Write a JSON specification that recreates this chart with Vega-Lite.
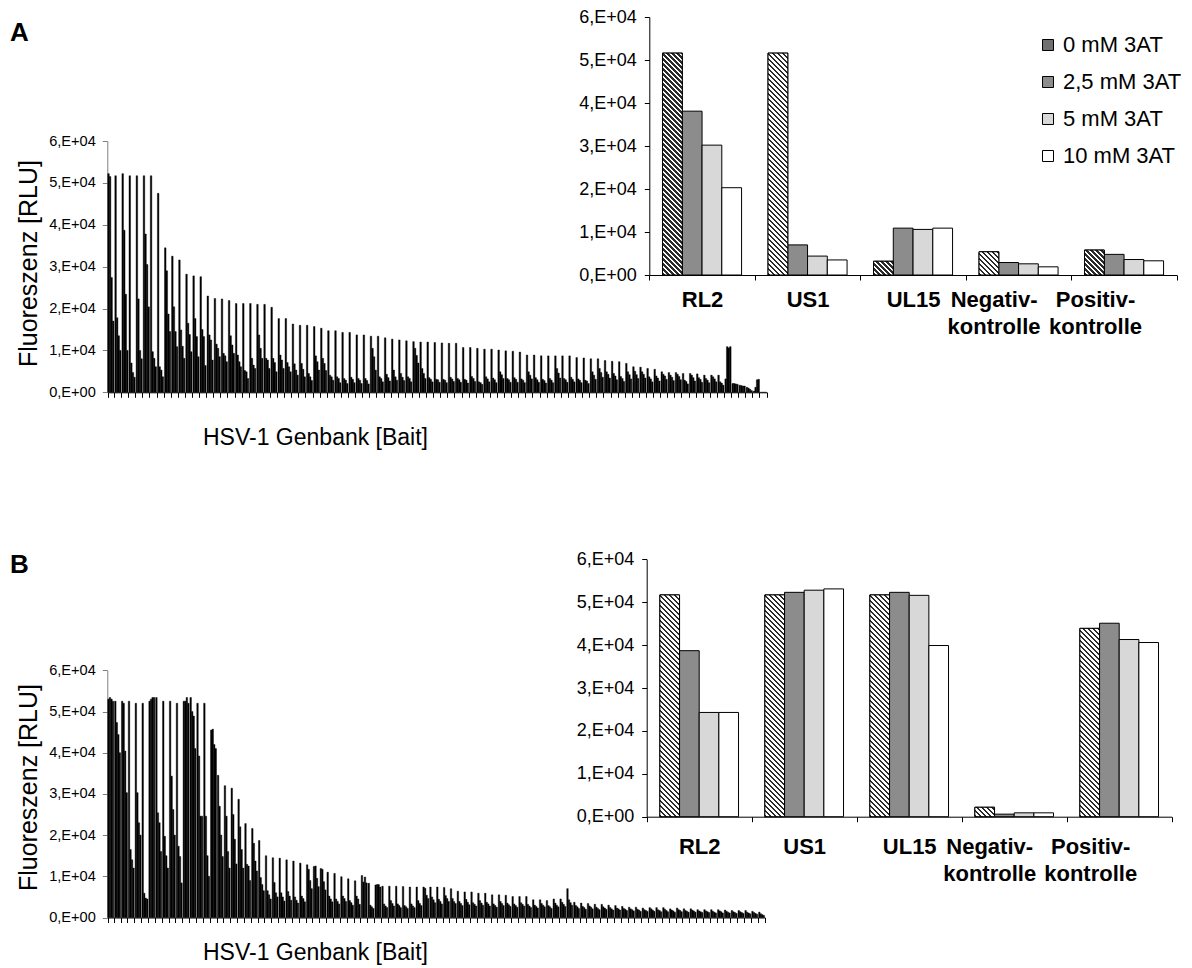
{
"$schema": "https://vega.github.io/schema/vega-lite/v6.json",
"width": 1192, "height": 968,
"autosize": {"type": "none"},
"padding": 0,
"background": "white",
"params": [
  {"name": "hatch", "value": [
{"offset":0,"color":"#2b2b2b"},{"offset":0.01,"color":"#2b2b2b"},{"offset":0.01,"color":"#ffffff"},{"offset":0.02,"color":"#ffffff"},
{"offset":0.02,"color":"#2b2b2b"},{"offset":0.03,"color":"#2b2b2b"},{"offset":0.03,"color":"#ffffff"},{"offset":0.04,"color":"#ffffff"},
{"offset":0.04,"color":"#2b2b2b"},{"offset":0.05,"color":"#2b2b2b"},{"offset":0.05,"color":"#ffffff"},{"offset":0.06,"color":"#ffffff"},
{"offset":0.06,"color":"#2b2b2b"},{"offset":0.07,"color":"#2b2b2b"},{"offset":0.07,"color":"#ffffff"},{"offset":0.08,"color":"#ffffff"},
{"offset":0.08,"color":"#2b2b2b"},{"offset":0.09,"color":"#2b2b2b"},{"offset":0.09,"color":"#ffffff"},{"offset":0.10,"color":"#ffffff"},
{"offset":0.10,"color":"#2b2b2b"},{"offset":0.11,"color":"#2b2b2b"},{"offset":0.11,"color":"#ffffff"},{"offset":0.12,"color":"#ffffff"},
{"offset":0.12,"color":"#2b2b2b"},{"offset":0.13,"color":"#2b2b2b"},{"offset":0.13,"color":"#ffffff"},{"offset":0.14,"color":"#ffffff"},
{"offset":0.14,"color":"#2b2b2b"},{"offset":0.15,"color":"#2b2b2b"},{"offset":0.15,"color":"#ffffff"},{"offset":0.16,"color":"#ffffff"},
{"offset":0.16,"color":"#2b2b2b"},{"offset":0.17,"color":"#2b2b2b"},{"offset":0.17,"color":"#ffffff"},{"offset":0.18,"color":"#ffffff"},
{"offset":0.18,"color":"#2b2b2b"},{"offset":0.19,"color":"#2b2b2b"},{"offset":0.19,"color":"#ffffff"},{"offset":0.20,"color":"#ffffff"},
{"offset":0.20,"color":"#2b2b2b"},{"offset":0.21,"color":"#2b2b2b"},{"offset":0.21,"color":"#ffffff"},{"offset":0.22,"color":"#ffffff"},
{"offset":0.22,"color":"#2b2b2b"},{"offset":0.23,"color":"#2b2b2b"},{"offset":0.23,"color":"#ffffff"},{"offset":0.24,"color":"#ffffff"},
{"offset":0.24,"color":"#2b2b2b"},{"offset":0.25,"color":"#2b2b2b"},{"offset":0.25,"color":"#ffffff"},{"offset":0.26,"color":"#ffffff"},
{"offset":0.26,"color":"#2b2b2b"},{"offset":0.27,"color":"#2b2b2b"},{"offset":0.27,"color":"#ffffff"},{"offset":0.28,"color":"#ffffff"},
{"offset":0.28,"color":"#2b2b2b"},{"offset":0.29,"color":"#2b2b2b"},{"offset":0.29,"color":"#ffffff"},{"offset":0.30,"color":"#ffffff"},
{"offset":0.30,"color":"#2b2b2b"},{"offset":0.31,"color":"#2b2b2b"},{"offset":0.31,"color":"#ffffff"},{"offset":0.32,"color":"#ffffff"},
{"offset":0.32,"color":"#2b2b2b"},{"offset":0.33,"color":"#2b2b2b"},{"offset":0.33,"color":"#ffffff"},{"offset":0.34,"color":"#ffffff"},
{"offset":0.34,"color":"#2b2b2b"},{"offset":0.35,"color":"#2b2b2b"},{"offset":0.35,"color":"#ffffff"},{"offset":0.36,"color":"#ffffff"},
{"offset":0.36,"color":"#2b2b2b"},{"offset":0.37,"color":"#2b2b2b"},{"offset":0.37,"color":"#ffffff"},{"offset":0.38,"color":"#ffffff"},
{"offset":0.38,"color":"#2b2b2b"},{"offset":0.39,"color":"#2b2b2b"},{"offset":0.39,"color":"#ffffff"},{"offset":0.40,"color":"#ffffff"},
{"offset":0.40,"color":"#2b2b2b"},{"offset":0.41,"color":"#2b2b2b"},{"offset":0.41,"color":"#ffffff"},{"offset":0.42,"color":"#ffffff"},
{"offset":0.42,"color":"#2b2b2b"},{"offset":0.43,"color":"#2b2b2b"},{"offset":0.43,"color":"#ffffff"},{"offset":0.44,"color":"#ffffff"},
{"offset":0.44,"color":"#2b2b2b"},{"offset":0.45,"color":"#2b2b2b"},{"offset":0.45,"color":"#ffffff"},{"offset":0.46,"color":"#ffffff"},
{"offset":0.46,"color":"#2b2b2b"},{"offset":0.47,"color":"#2b2b2b"},{"offset":0.47,"color":"#ffffff"},{"offset":0.48,"color":"#ffffff"},
{"offset":0.48,"color":"#2b2b2b"},{"offset":0.49,"color":"#2b2b2b"},{"offset":0.49,"color":"#ffffff"},{"offset":0.50,"color":"#ffffff"},
{"offset":0.50,"color":"#2b2b2b"},{"offset":0.51,"color":"#2b2b2b"},{"offset":0.51,"color":"#ffffff"},{"offset":0.52,"color":"#ffffff"},
{"offset":0.52,"color":"#2b2b2b"},{"offset":0.53,"color":"#2b2b2b"},{"offset":0.53,"color":"#ffffff"},{"offset":0.54,"color":"#ffffff"},
{"offset":0.54,"color":"#2b2b2b"},{"offset":0.55,"color":"#2b2b2b"},{"offset":0.55,"color":"#ffffff"},{"offset":0.56,"color":"#ffffff"},
{"offset":0.56,"color":"#2b2b2b"},{"offset":0.57,"color":"#2b2b2b"},{"offset":0.57,"color":"#ffffff"},{"offset":0.58,"color":"#ffffff"},
{"offset":0.58,"color":"#2b2b2b"},{"offset":0.59,"color":"#2b2b2b"},{"offset":0.59,"color":"#ffffff"},{"offset":0.60,"color":"#ffffff"},
{"offset":0.60,"color":"#2b2b2b"},{"offset":0.61,"color":"#2b2b2b"},{"offset":0.61,"color":"#ffffff"},{"offset":0.62,"color":"#ffffff"},
{"offset":0.62,"color":"#2b2b2b"},{"offset":0.63,"color":"#2b2b2b"},{"offset":0.63,"color":"#ffffff"},{"offset":0.64,"color":"#ffffff"},
{"offset":0.64,"color":"#2b2b2b"},{"offset":0.65,"color":"#2b2b2b"},{"offset":0.65,"color":"#ffffff"},{"offset":0.66,"color":"#ffffff"},
{"offset":0.66,"color":"#2b2b2b"},{"offset":0.67,"color":"#2b2b2b"},{"offset":0.67,"color":"#ffffff"},{"offset":0.68,"color":"#ffffff"},
{"offset":0.68,"color":"#2b2b2b"},{"offset":0.69,"color":"#2b2b2b"},{"offset":0.69,"color":"#ffffff"},{"offset":0.70,"color":"#ffffff"},
{"offset":0.70,"color":"#2b2b2b"},{"offset":0.71,"color":"#2b2b2b"},{"offset":0.71,"color":"#ffffff"},{"offset":0.72,"color":"#ffffff"},
{"offset":0.72,"color":"#2b2b2b"},{"offset":0.73,"color":"#2b2b2b"},{"offset":0.73,"color":"#ffffff"},{"offset":0.74,"color":"#ffffff"},
{"offset":0.74,"color":"#2b2b2b"},{"offset":0.75,"color":"#2b2b2b"},{"offset":0.75,"color":"#ffffff"},{"offset":0.76,"color":"#ffffff"},
{"offset":0.76,"color":"#2b2b2b"},{"offset":0.77,"color":"#2b2b2b"},{"offset":0.77,"color":"#ffffff"},{"offset":0.78,"color":"#ffffff"},
{"offset":0.78,"color":"#2b2b2b"},{"offset":0.79,"color":"#2b2b2b"},{"offset":0.79,"color":"#ffffff"},{"offset":0.80,"color":"#ffffff"},
{"offset":0.80,"color":"#2b2b2b"},{"offset":0.81,"color":"#2b2b2b"},{"offset":0.81,"color":"#ffffff"},{"offset":0.82,"color":"#ffffff"},
{"offset":0.82,"color":"#2b2b2b"},{"offset":0.83,"color":"#2b2b2b"},{"offset":0.83,"color":"#ffffff"},{"offset":0.84,"color":"#ffffff"},
{"offset":0.84,"color":"#2b2b2b"},{"offset":0.85,"color":"#2b2b2b"},{"offset":0.85,"color":"#ffffff"},{"offset":0.86,"color":"#ffffff"},
{"offset":0.86,"color":"#2b2b2b"},{"offset":0.87,"color":"#2b2b2b"},{"offset":0.87,"color":"#ffffff"},{"offset":0.88,"color":"#ffffff"},
{"offset":0.88,"color":"#2b2b2b"},{"offset":0.89,"color":"#2b2b2b"},{"offset":0.89,"color":"#ffffff"},{"offset":0.90,"color":"#ffffff"},
{"offset":0.90,"color":"#2b2b2b"},{"offset":0.91,"color":"#2b2b2b"},{"offset":0.91,"color":"#ffffff"},{"offset":0.92,"color":"#ffffff"},
{"offset":0.92,"color":"#2b2b2b"},{"offset":0.93,"color":"#2b2b2b"},{"offset":0.93,"color":"#ffffff"},{"offset":0.94,"color":"#ffffff"},
{"offset":0.94,"color":"#2b2b2b"},{"offset":0.95,"color":"#2b2b2b"},{"offset":0.95,"color":"#ffffff"},{"offset":0.96,"color":"#ffffff"},
{"offset":0.96,"color":"#2b2b2b"},{"offset":0.97,"color":"#2b2b2b"},{"offset":0.97,"color":"#ffffff"},{"offset":0.98,"color":"#ffffff"},
{"offset":0.98,"color":"#2b2b2b"},{"offset":0.99,"color":"#2b2b2b"},{"offset":0.99,"color":"#ffffff"},{"offset":1,"color":"#ffffff"}
  ]}
],
"config": {
  "font": "Liberation Sans",
  "view": {"stroke": null},
  "axis": {"grid": false, "labelColor": "black", "titleColor": "black", "domainColor": "black", "tickColor": "black", "labelFont": "Liberation Sans", "titleFont": "Liberation Sans"},
  "legend": {"labelFont": "Liberation Sans", "labelColor": "black"}
},
"datasets": {
"aLeft": [
{"c":0,"k":0,"v":52200},{"c":0,"k":1,"v":51500},{"c":0,"k":2,"v":27400},{"c":0,"k":3,"v":17000},
{"c":1,"k":0,"v":51700},{"c":1,"k":1,"v":17800},{"c":1,"k":2,"v":13500},{"c":1,"k":3,"v":10000},
{"c":2,"k":0,"v":52200},{"c":2,"k":1,"v":38700},{"c":2,"k":2,"v":23400},{"c":2,"k":3,"v":10000},
{"c":3,"k":0,"v":51700},{"c":3,"k":1,"v":7000},{"c":3,"k":2,"v":4700},{"c":3,"k":3,"v":3600},
{"c":4,"k":0,"v":51700},{"c":4,"k":1,"v":22300},{"c":4,"k":2,"v":10000},{"c":4,"k":3,"v":8000},
{"c":5,"k":0,"v":51700},{"c":5,"k":1,"v":37800},{"c":5,"k":2,"v":30500},{"c":5,"k":3,"v":20400},
{"c":6,"k":0,"v":51700},{"c":6,"k":1,"v":9700},{"c":6,"k":2,"v":8100},{"c":6,"k":3,"v":6100},
{"c":7,"k":0,"v":47500},{"c":7,"k":1,"v":6100},{"c":7,"k":2,"v":5300},{"c":7,"k":3,"v":3700},
{"c":8,"k":0,"v":34500},{"c":8,"k":1,"v":29000},{"c":8,"k":2,"v":18700},{"c":8,"k":3,"v":14500},
{"c":9,"k":0,"v":32500},{"c":9,"k":1,"v":20400},{"c":9,"k":2,"v":14500},{"c":9,"k":3,"v":10900},
{"c":10,"k":0,"v":31600},{"c":10,"k":1,"v":14900},{"c":10,"k":2,"v":11000},{"c":10,"k":3,"v":8100},
{"c":11,"k":0,"v":28200},{"c":11,"k":1,"v":16500},{"c":11,"k":2,"v":13800},{"c":11,"k":3,"v":9700},
{"c":12,"k":0,"v":27800},{"c":12,"k":1,"v":17600},{"c":12,"k":2,"v":13300},{"c":12,"k":3,"v":8500},
{"c":13,"k":0,"v":27600},{"c":13,"k":1,"v":15000},{"c":13,"k":2,"v":13300},{"c":13,"k":3,"v":6400},
{"c":14,"k":0,"v":23000},{"c":14,"k":1,"v":13700},{"c":14,"k":2,"v":12500},{"c":14,"k":3,"v":7700},
{"c":15,"k":0,"v":22400},{"c":15,"k":1,"v":11500},{"c":15,"k":2,"v":10500},{"c":15,"k":3,"v":8500},
{"c":16,"k":0,"v":22300},{"c":16,"k":1,"v":9300},{"c":16,"k":2,"v":8700},{"c":16,"k":3,"v":7300},
{"c":17,"k":0,"v":21900},{"c":17,"k":1,"v":13500},{"c":17,"k":2,"v":11300},{"c":17,"k":3,"v":9300},
{"c":18,"k":0,"v":21200},{"c":18,"k":1,"v":8900},{"c":18,"k":2,"v":7300},{"c":18,"k":3,"v":6100},
{"c":19,"k":0,"v":21200},{"c":19,"k":1,"v":5200},{"c":19,"k":2,"v":4900},{"c":19,"k":3,"v":3300},
{"c":20,"k":0,"v":21200},{"c":20,"k":1,"v":8100},{"c":20,"k":2,"v":6500},{"c":20,"k":3,"v":5700},
{"c":21,"k":0,"v":21000},{"c":21,"k":1,"v":13700},{"c":21,"k":2,"v":10500},{"c":21,"k":3,"v":8100},
{"c":22,"k":0,"v":21000},{"c":22,"k":1,"v":8100},{"c":22,"k":2,"v":7700},{"c":22,"k":3,"v":5700},
{"c":23,"k":0,"v":20300},{"c":23,"k":1,"v":8100},{"c":23,"k":2,"v":7100},{"c":23,"k":3,"v":4900},
{"c":24,"k":0,"v":17600},{"c":24,"k":1,"v":8900},{"c":24,"k":2,"v":7700},{"c":24,"k":3,"v":5700},
{"c":25,"k":0,"v":17600},{"c":25,"k":1,"v":7100},{"c":25,"k":2,"v":6100},{"c":25,"k":3,"v":4900},
{"c":26,"k":0,"v":16300},{"c":26,"k":1,"v":6800},{"c":26,"k":2,"v":5300},{"c":26,"k":3,"v":4100},
{"c":27,"k":0,"v":16000},{"c":27,"k":1,"v":6900},{"c":27,"k":2,"v":5500},{"c":27,"k":3,"v":3700},
{"c":28,"k":0,"v":16000},{"c":28,"k":1,"v":4500},{"c":28,"k":2,"v":3700},{"c":28,"k":3,"v":2800},
{"c":29,"k":0,"v":15700},{"c":29,"k":1,"v":8700},{"c":29,"k":2,"v":7300},{"c":29,"k":3,"v":5300},
{"c":30,"k":0,"v":15300},{"c":30,"k":1,"v":8100},{"c":30,"k":2,"v":6900},{"c":30,"k":3,"v":5200},
{"c":31,"k":0,"v":14700},{"c":31,"k":1,"v":4100},{"c":31,"k":2,"v":3700},{"c":31,"k":3,"v":2900},
{"c":32,"k":0,"v":14700},{"c":32,"k":1,"v":3700},{"c":32,"k":2,"v":3300},{"c":32,"k":3,"v":2300},
{"c":33,"k":0,"v":14300},{"c":33,"k":1,"v":3300},{"c":33,"k":2,"v":2900},{"c":33,"k":3,"v":2100},
{"c":34,"k":0,"v":14300},{"c":34,"k":1,"v":3600},{"c":34,"k":2,"v":3100},{"c":34,"k":3,"v":2300},
{"c":35,"k":0,"v":13700},{"c":35,"k":1,"v":3300},{"c":35,"k":2,"v":2900},{"c":35,"k":3,"v":2100},
{"c":36,"k":0,"v":13700},{"c":36,"k":1,"v":3300},{"c":36,"k":2,"v":2800},{"c":36,"k":3,"v":2000},
{"c":37,"k":0,"v":13400},{"c":37,"k":1,"v":10500},{"c":37,"k":2,"v":8500},{"c":37,"k":3,"v":5300},
{"c":38,"k":0,"v":13400},{"c":38,"k":1,"v":3700},{"c":38,"k":2,"v":3300},{"c":38,"k":3,"v":2500},
{"c":39,"k":0,"v":13000},{"c":39,"k":1,"v":4300},{"c":39,"k":2,"v":3500},{"c":39,"k":3,"v":2700},
{"c":40,"k":0,"v":12700},{"c":40,"k":1,"v":5300},{"c":40,"k":2,"v":3700},{"c":40,"k":3,"v":2900},
{"c":41,"k":0,"v":12500},{"c":41,"k":1,"v":4500},{"c":41,"k":2,"v":3600},{"c":41,"k":3,"v":2800},
{"c":42,"k":0,"v":12300},{"c":42,"k":1,"v":3700},{"c":42,"k":2,"v":3300},{"c":42,"k":3,"v":2500},
{"c":43,"k":0,"v":12100},{"c":43,"k":1,"v":10500},{"c":43,"k":2,"v":8800},{"c":43,"k":3,"v":7000},
{"c":44,"k":0,"v":12000},{"c":44,"k":1,"v":5700},{"c":44,"k":2,"v":4500},{"c":44,"k":3,"v":3300},
{"c":45,"k":0,"v":12000},{"c":45,"k":1,"v":3500},{"c":45,"k":2,"v":3100},{"c":45,"k":3,"v":2500},
{"c":46,"k":0,"v":11900},{"c":46,"k":1,"v":3100},{"c":46,"k":2,"v":3000},{"c":46,"k":3,"v":2400},
{"c":47,"k":0,"v":11800},{"c":47,"k":1,"v":3100},{"c":47,"k":2,"v":2900},{"c":47,"k":3,"v":2300},
{"c":48,"k":0,"v":11700},{"c":48,"k":1,"v":3600},{"c":48,"k":2,"v":3200},{"c":48,"k":3,"v":2600},
{"c":49,"k":0,"v":11700},{"c":49,"k":1,"v":3300},{"c":49,"k":2,"v":3000},{"c":49,"k":3,"v":2400},
{"c":50,"k":0,"v":10700},{"c":50,"k":1,"v":3100},{"c":50,"k":2,"v":2900},{"c":50,"k":3,"v":2200},
{"c":51,"k":0,"v":10700},{"c":51,"k":1,"v":3800},{"c":51,"k":2,"v":3300},{"c":51,"k":3,"v":2600},
{"c":52,"k":0,"v":10500},{"c":52,"k":1,"v":2500},{"c":52,"k":2,"v":2300},{"c":52,"k":3,"v":1900},
{"c":53,"k":0,"v":10300},{"c":53,"k":1,"v":3700},{"c":53,"k":2,"v":3200},{"c":53,"k":3,"v":2500},
{"c":54,"k":0,"v":10300},{"c":54,"k":1,"v":3400},{"c":54,"k":2,"v":3000},{"c":54,"k":3,"v":2300},
{"c":55,"k":0,"v":10100},{"c":55,"k":1,"v":4900},{"c":55,"k":2,"v":4200},{"c":55,"k":3,"v":3300},
{"c":56,"k":0,"v":9900},{"c":56,"k":1,"v":3300},{"c":56,"k":2,"v":3000},{"c":56,"k":3,"v":2400},
{"c":57,"k":0,"v":9800},{"c":57,"k":1,"v":3500},{"c":57,"k":2,"v":3100},{"c":57,"k":3,"v":2400},
{"c":58,"k":0,"v":9600},{"c":58,"k":1,"v":3200},{"c":58,"k":2,"v":2900},{"c":58,"k":3,"v":2300},
{"c":59,"k":0,"v":8900},{"c":59,"k":1,"v":4900},{"c":59,"k":2,"v":4100},{"c":59,"k":3,"v":3200},
{"c":60,"k":0,"v":8900},{"c":60,"k":1,"v":3500},{"c":60,"k":2,"v":3000},{"c":60,"k":3,"v":2400},
{"c":61,"k":0,"v":8700},{"c":61,"k":1,"v":3100},{"c":61,"k":2,"v":2800},{"c":61,"k":3,"v":2200},
{"c":62,"k":0,"v":8700},{"c":62,"k":1,"v":3300},{"c":62,"k":2,"v":2900},{"c":62,"k":3,"v":2300},
{"c":63,"k":0,"v":8700},{"c":63,"k":1,"v":5700},{"c":63,"k":2,"v":4600},{"c":63,"k":3,"v":3400},
{"c":64,"k":0,"v":8700},{"c":64,"k":1,"v":3300},{"c":64,"k":2,"v":3000},{"c":64,"k":3,"v":2400},
{"c":65,"k":0,"v":8700},{"c":65,"k":1,"v":3600},{"c":65,"k":2,"v":3100},{"c":65,"k":3,"v":2500},
{"c":66,"k":0,"v":8300},{"c":66,"k":1,"v":3200},{"c":66,"k":2,"v":2900},{"c":66,"k":3,"v":2300},
{"c":67,"k":0,"v":8200},{"c":67,"k":1,"v":2900},{"c":67,"k":2,"v":2700},{"c":67,"k":3,"v":2100},
{"c":68,"k":0,"v":8000},{"c":68,"k":1,"v":4900},{"c":68,"k":2,"v":4100},{"c":68,"k":3,"v":3100},
{"c":69,"k":0,"v":8000},{"c":69,"k":1,"v":5700},{"c":69,"k":2,"v":4700},{"c":69,"k":3,"v":3600},
{"c":70,"k":0,"v":7600},{"c":70,"k":1,"v":4900},{"c":70,"k":2,"v":4300},{"c":70,"k":3,"v":3400},
{"c":71,"k":0,"v":7400},{"c":71,"k":1,"v":4500},{"c":71,"k":2,"v":3900},{"c":71,"k":3,"v":3000},
{"c":72,"k":0,"v":7300},{"c":72,"k":1,"v":3800},{"c":72,"k":2,"v":3300},{"c":72,"k":3,"v":2600},
{"c":73,"k":0,"v":6900},{"c":73,"k":1,"v":4900},{"c":73,"k":2,"v":4200},{"c":73,"k":3,"v":3200},
{"c":74,"k":0,"v":6100},{"c":74,"k":1,"v":5000},{"c":74,"k":2,"v":4200},{"c":74,"k":3,"v":3300},
{"c":75,"k":0,"v":6000},{"c":75,"k":1,"v":4900},{"c":75,"k":2,"v":4300},{"c":75,"k":3,"v":3400},
{"c":76,"k":0,"v":5700},{"c":76,"k":1,"v":3700},{"c":76,"k":2,"v":3200},{"c":76,"k":3,"v":2500},
{"c":77,"k":0,"v":5500},{"c":77,"k":1,"v":3900},{"c":77,"k":2,"v":3400},{"c":77,"k":3,"v":2700},
{"c":78,"k":0,"v":4900},{"c":78,"k":1,"v":4300},{"c":78,"k":2,"v":3900},{"c":78,"k":3,"v":3100},
{"c":79,"k":0,"v":4700},{"c":79,"k":1,"v":4100},{"c":79,"k":2,"v":3600},{"c":79,"k":3,"v":2800},
{"c":80,"k":0,"v":4700},{"c":80,"k":1,"v":4300},{"c":80,"k":2,"v":3800},{"c":80,"k":3,"v":3000},
{"c":81,"k":0,"v":4500},{"c":81,"k":1,"v":2900},{"c":81,"k":2,"v":2600},{"c":81,"k":3,"v":2000},
{"c":82,"k":0,"v":4500},{"c":82,"k":1,"v":4100},{"c":82,"k":2,"v":3500},{"c":82,"k":3,"v":2700},
{"c":83,"k":0,"v":4400},{"c":83,"k":1,"v":3500},{"c":83,"k":2,"v":3100},{"c":83,"k":3,"v":2400},
{"c":84,"k":0,"v":4100},{"c":84,"k":1,"v":3300},{"c":84,"k":2,"v":2900},{"c":84,"k":3,"v":2300},
{"c":85,"k":0,"v":4100},{"c":85,"k":1,"v":3700},{"c":85,"k":2,"v":3200},{"c":85,"k":3,"v":2500},
{"c":86,"k":0,"v":4100},{"c":86,"k":1,"v":2500},{"c":86,"k":2,"v":2200},{"c":86,"k":3,"v":1700},
{"c":87,"k":0,"v":3200},{"c":87,"k":1,"v":10900},{"c":87,"k":2,"v":10600},{"c":87,"k":3,"v":10900},
{"c":88,"k":0,"v":2100},{"c":88,"k":1,"v":2100},{"c":88,"k":2,"v":2000},{"c":88,"k":3,"v":1900},
{"c":89,"k":0,"v":1700},{"c":89,"k":1,"v":1600},{"c":89,"k":2,"v":1500},{"c":89,"k":3,"v":1500},
{"c":90,"k":0,"v":1200},{"c":90,"k":1,"v":1000},{"c":90,"k":2,"v":700},{"c":90,"k":3,"v":400},
{"c":91,"k":0,"v":300},{"c":91,"k":1,"v":1200},{"c":91,"k":2,"v":3000},{"c":91,"k":3,"v":3100},
{"c":92,"k":0,"v":0},{"c":92,"k":1,"v":0},{"c":92,"k":2,"v":0},{"c":92,"k":3,"v":0}
],
"bLeft": [
{"c":0,"k":0,"v":53000},{"c":0,"k":1,"v":53400},{"c":0,"k":2,"v":53000},{"c":0,"k":3,"v":52500},
{"c":1,"k":0,"v":52500},{"c":1,"k":1,"v":47300},{"c":1,"k":2,"v":44400},{"c":1,"k":3,"v":40000},
{"c":2,"k":0,"v":52500},{"c":2,"k":1,"v":52000},{"c":2,"k":2,"v":40400},{"c":2,"k":3,"v":30300},
{"c":3,"k":0,"v":52500},{"c":3,"k":1,"v":16500},{"c":3,"k":2,"v":14000},{"c":3,"k":3,"v":12000},
{"c":4,"k":0,"v":52000},{"c":4,"k":1,"v":30300},{"c":4,"k":2,"v":23000},{"c":4,"k":3,"v":20000},
{"c":5,"k":0,"v":52000},{"c":5,"k":1,"v":5900},{"c":5,"k":2,"v":4700},{"c":5,"k":3,"v":4500},
{"c":6,"k":0,"v":52500},{"c":6,"k":1,"v":53000},{"c":6,"k":2,"v":53400},{"c":6,"k":3,"v":53400},
{"c":7,"k":0,"v":53400},{"c":7,"k":1,"v":25400},{"c":7,"k":2,"v":23000},{"c":7,"k":3,"v":16000},
{"c":8,"k":0,"v":52500},{"c":8,"k":1,"v":19700},{"c":8,"k":2,"v":15000},{"c":8,"k":3,"v":12000},
{"c":9,"k":0,"v":52500},{"c":9,"k":1,"v":34300},{"c":9,"k":2,"v":26200},{"c":9,"k":3,"v":20000},
{"c":10,"k":0,"v":52000},{"c":10,"k":1,"v":17300},{"c":10,"k":2,"v":14800},{"c":10,"k":3,"v":8400},
{"c":11,"k":0,"v":52500},{"c":11,"k":1,"v":52500},{"c":11,"k":2,"v":53400},{"c":11,"k":3,"v":52000},
{"c":12,"k":0,"v":53400},{"c":12,"k":1,"v":50000},{"c":12,"k":2,"v":48900},{"c":12,"k":3,"v":41000},
{"c":13,"k":0,"v":52000},{"c":13,"k":1,"v":39200},{"c":13,"k":2,"v":24600},{"c":13,"k":3,"v":24600},
{"c":14,"k":0,"v":52000},{"c":14,"k":1,"v":24600},{"c":14,"k":2,"v":15000},{"c":14,"k":3,"v":10000},
{"c":15,"k":0,"v":45500},{"c":15,"k":1,"v":45700},{"c":15,"k":2,"v":42000},{"c":15,"k":3,"v":41000},
{"c":16,"k":0,"v":34500},{"c":16,"k":1,"v":27000},{"c":16,"k":2,"v":20000},{"c":16,"k":3,"v":14800},
{"c":17,"k":0,"v":32000},{"c":17,"k":1,"v":24600},{"c":17,"k":2,"v":16000},{"c":17,"k":3,"v":12000},
{"c":18,"k":0,"v":31400},{"c":18,"k":1,"v":25000},{"c":18,"k":2,"v":19000},{"c":18,"k":3,"v":13000},
{"c":19,"k":0,"v":28700},{"c":19,"k":1,"v":22000},{"c":19,"k":2,"v":16500},{"c":19,"k":3,"v":12000},
{"c":20,"k":0,"v":22800},{"c":20,"k":1,"v":12900},{"c":20,"k":2,"v":12500},{"c":20,"k":3,"v":9000},
{"c":21,"k":0,"v":21600},{"c":21,"k":1,"v":18000},{"c":21,"k":2,"v":13700},{"c":21,"k":3,"v":11300},
{"c":22,"k":0,"v":18700},{"c":22,"k":1,"v":9700},{"c":22,"k":2,"v":8000},{"c":22,"k":3,"v":6500},
{"c":23,"k":0,"v":15000},{"c":23,"k":1,"v":6500},{"c":23,"k":2,"v":5500},{"c":23,"k":3,"v":4500},
{"c":24,"k":0,"v":14500},{"c":24,"k":1,"v":8500},{"c":24,"k":2,"v":6000},{"c":24,"k":3,"v":5000},
{"c":25,"k":0,"v":14400},{"c":25,"k":1,"v":6000},{"c":25,"k":2,"v":5000},{"c":25,"k":3,"v":4000},
{"c":26,"k":0,"v":14000},{"c":26,"k":1,"v":6300},{"c":26,"k":2,"v":5200},{"c":26,"k":3,"v":4200},
{"c":27,"k":0,"v":13700},{"c":27,"k":1,"v":5000},{"c":27,"k":2,"v":4200},{"c":27,"k":3,"v":3500},
{"c":28,"k":0,"v":13200},{"c":28,"k":1,"v":5200},{"c":28,"k":2,"v":4600},{"c":28,"k":3,"v":3800},
{"c":29,"k":0,"v":12800},{"c":29,"k":1,"v":11700},{"c":29,"k":2,"v":9000},{"c":29,"k":3,"v":7000},
{"c":30,"k":0,"v":12400},{"c":30,"k":1,"v":12500},{"c":30,"k":2,"v":9500},{"c":30,"k":3,"v":7500},
{"c":31,"k":0,"v":11900},{"c":31,"k":1,"v":11700},{"c":31,"k":2,"v":8700},{"c":31,"k":3,"v":6700},
{"c":32,"k":0,"v":11000},{"c":32,"k":1,"v":5200},{"c":32,"k":2,"v":4500},{"c":32,"k":3,"v":3800},
{"c":33,"k":0,"v":10700},{"c":33,"k":1,"v":4500},{"c":33,"k":2,"v":3900},{"c":33,"k":3,"v":3300},
{"c":34,"k":0,"v":9900},{"c":34,"k":1,"v":5200},{"c":34,"k":2,"v":4600},{"c":34,"k":3,"v":3900},
{"c":35,"k":0,"v":9400},{"c":35,"k":1,"v":4100},{"c":35,"k":2,"v":3600},{"c":35,"k":3,"v":3000},
{"c":36,"k":0,"v":8900},{"c":36,"k":1,"v":5200},{"c":36,"k":2,"v":4500},{"c":36,"k":3,"v":3200},
{"c":37,"k":0,"v":10200},{"c":37,"k":1,"v":8600},{"c":37,"k":2,"v":9800},{"c":37,"k":3,"v":8400},
{"c":38,"k":0,"v":8300},{"c":38,"k":1,"v":3000},{"c":38,"k":2,"v":2600},{"c":38,"k":3,"v":2200},
{"c":39,"k":0,"v":7900},{"c":39,"k":1,"v":8000},{"c":39,"k":2,"v":8000},{"c":39,"k":3,"v":7400},
{"c":40,"k":0,"v":7600},{"c":40,"k":1,"v":3300},{"c":40,"k":2,"v":2800},{"c":40,"k":3,"v":2400},
{"c":41,"k":0,"v":7600},{"c":41,"k":1,"v":4100},{"c":41,"k":2,"v":3400},{"c":41,"k":3,"v":2800},
{"c":42,"k":0,"v":7600},{"c":42,"k":1,"v":3300},{"c":42,"k":2,"v":2900},{"c":42,"k":3,"v":2400},
{"c":43,"k":0,"v":7500},{"c":43,"k":1,"v":2900},{"c":43,"k":2,"v":2600},{"c":43,"k":3,"v":2200},
{"c":44,"k":0,"v":7400},{"c":44,"k":1,"v":3300},{"c":44,"k":2,"v":2800},{"c":44,"k":3,"v":2400},
{"c":45,"k":0,"v":7400},{"c":45,"k":1,"v":4100},{"c":45,"k":2,"v":3400},{"c":45,"k":3,"v":2900},
{"c":46,"k":0,"v":7400},{"c":46,"k":1,"v":7100},{"c":46,"k":2,"v":5400},{"c":46,"k":3,"v":4600},
{"c":47,"k":0,"v":7400},{"c":47,"k":1,"v":5000},{"c":47,"k":2,"v":4300},{"c":47,"k":3,"v":3600},
{"c":48,"k":0,"v":7400},{"c":48,"k":1,"v":4400},{"c":48,"k":2,"v":3900},{"c":48,"k":3,"v":3300},
{"c":49,"k":0,"v":7300},{"c":49,"k":1,"v":5300},{"c":49,"k":2,"v":4600},{"c":49,"k":3,"v":3900},
{"c":50,"k":0,"v":7000},{"c":50,"k":1,"v":4600},{"c":50,"k":2,"v":3900},{"c":50,"k":3,"v":3400},
{"c":51,"k":0,"v":6400},{"c":51,"k":1,"v":3900},{"c":51,"k":2,"v":3400},{"c":51,"k":3,"v":2900},
{"c":52,"k":0,"v":6200},{"c":52,"k":1,"v":4400},{"c":52,"k":2,"v":3700},{"c":52,"k":3,"v":3100},
{"c":53,"k":0,"v":6200},{"c":53,"k":1,"v":3600},{"c":53,"k":2,"v":3200},{"c":53,"k":3,"v":2800},
{"c":54,"k":0,"v":5900},{"c":54,"k":1,"v":4100},{"c":54,"k":2,"v":3500},{"c":54,"k":3,"v":3000},
{"c":55,"k":0,"v":5900},{"c":55,"k":1,"v":3700},{"c":55,"k":2,"v":3300},{"c":55,"k":3,"v":2800},
{"c":56,"k":0,"v":5500},{"c":56,"k":1,"v":3300},{"c":56,"k":2,"v":2900},{"c":56,"k":3,"v":2500},
{"c":57,"k":0,"v":5500},{"c":57,"k":1,"v":3900},{"c":57,"k":2,"v":3400},{"c":57,"k":3,"v":2900},
{"c":58,"k":0,"v":5400},{"c":58,"k":1,"v":3500},{"c":58,"k":2,"v":3100},{"c":58,"k":3,"v":2700},
{"c":59,"k":0,"v":5100},{"c":59,"k":1,"v":3300},{"c":59,"k":2,"v":2900},{"c":59,"k":3,"v":2500},
{"c":60,"k":0,"v":5100},{"c":60,"k":1,"v":3600},{"c":60,"k":2,"v":3200},{"c":60,"k":3,"v":2800},
{"c":61,"k":0,"v":5100},{"c":61,"k":1,"v":3200},{"c":61,"k":2,"v":2800},{"c":61,"k":3,"v":2400},
{"c":62,"k":0,"v":4300},{"c":62,"k":1,"v":3000},{"c":62,"k":2,"v":2700},{"c":62,"k":3,"v":2300},
{"c":63,"k":0,"v":4300},{"c":63,"k":1,"v":3400},{"c":63,"k":2,"v":3000},{"c":63,"k":3,"v":2600},
{"c":64,"k":0,"v":4100},{"c":64,"k":1,"v":2900},{"c":64,"k":2,"v":2600},{"c":64,"k":3,"v":2200},
{"c":65,"k":0,"v":4500},{"c":65,"k":1,"v":3500},{"c":65,"k":2,"v":3000},{"c":65,"k":3,"v":2600},
{"c":66,"k":0,"v":4500},{"c":66,"k":1,"v":3700},{"c":66,"k":2,"v":3200},{"c":66,"k":3,"v":2700},
{"c":67,"k":0,"v":7000},{"c":67,"k":1,"v":4300},{"c":67,"k":2,"v":3600},{"c":67,"k":3,"v":3000},
{"c":68,"k":0,"v":3700},{"c":68,"k":1,"v":2900},{"c":68,"k":2,"v":2600},{"c":68,"k":3,"v":2200},
{"c":69,"k":0,"v":3500},{"c":69,"k":1,"v":2700},{"c":69,"k":2,"v":2400},{"c":69,"k":3,"v":2000},
{"c":70,"k":0,"v":3400},{"c":70,"k":1,"v":2800},{"c":70,"k":2,"v":2500},{"c":70,"k":3,"v":2100},
{"c":71,"k":0,"v":3200},{"c":71,"k":1,"v":2500},{"c":71,"k":2,"v":2200},{"c":71,"k":3,"v":1900},
{"c":72,"k":0,"v":3200},{"c":72,"k":1,"v":2600},{"c":72,"k":2,"v":2300},{"c":72,"k":3,"v":2000},
{"c":73,"k":0,"v":3000},{"c":73,"k":1,"v":2400},{"c":73,"k":2,"v":2100},{"c":73,"k":3,"v":1800},
{"c":74,"k":0,"v":2900},{"c":74,"k":1,"v":2300},{"c":74,"k":2,"v":2100},{"c":74,"k":3,"v":1800},
{"c":75,"k":0,"v":2700},{"c":75,"k":1,"v":2200},{"c":75,"k":2,"v":2000},{"c":75,"k":3,"v":1700},
{"c":76,"k":0,"v":2500},{"c":76,"k":1,"v":2100},{"c":76,"k":2,"v":1900},{"c":76,"k":3,"v":1600},
{"c":77,"k":0,"v":2500},{"c":77,"k":1,"v":2000},{"c":77,"k":2,"v":1800},{"c":77,"k":3,"v":1500},
{"c":78,"k":0,"v":2300},{"c":78,"k":1,"v":1900},{"c":78,"k":2,"v":1700},{"c":78,"k":3,"v":1500},
{"c":79,"k":0,"v":2400},{"c":79,"k":1,"v":2100},{"c":79,"k":2,"v":1800},{"c":79,"k":3,"v":1500},
{"c":80,"k":0,"v":2400},{"c":80,"k":1,"v":1900},{"c":80,"k":2,"v":1700},{"c":80,"k":3,"v":1400},
{"c":81,"k":0,"v":2400},{"c":81,"k":1,"v":2000},{"c":81,"k":2,"v":1700},{"c":81,"k":3,"v":1400},
{"c":82,"k":0,"v":2100},{"c":82,"k":1,"v":1800},{"c":82,"k":2,"v":1600},{"c":82,"k":3,"v":1300},
{"c":83,"k":0,"v":2300},{"c":83,"k":1,"v":1900},{"c":83,"k":2,"v":1700},{"c":83,"k":3,"v":1400},
{"c":84,"k":0,"v":2100},{"c":84,"k":1,"v":1700},{"c":84,"k":2,"v":1500},{"c":84,"k":3,"v":1300},
{"c":85,"k":0,"v":2100},{"c":85,"k":1,"v":1800},{"c":85,"k":2,"v":1600},{"c":85,"k":3,"v":1300},
{"c":86,"k":0,"v":1900},{"c":86,"k":1,"v":1600},{"c":86,"k":2,"v":1400},{"c":86,"k":3,"v":1200},
{"c":87,"k":0,"v":1900},{"c":87,"k":1,"v":1600},{"c":87,"k":2,"v":1400},{"c":87,"k":3,"v":1200},
{"c":88,"k":0,"v":1900},{"c":88,"k":1,"v":1500},{"c":88,"k":2,"v":1300},{"c":88,"k":3,"v":1100},
{"c":89,"k":0,"v":1900},{"c":89,"k":1,"v":1600},{"c":89,"k":2,"v":1400},{"c":89,"k":3,"v":1100},
{"c":90,"k":0,"v":1800},{"c":90,"k":1,"v":1500},{"c":90,"k":2,"v":1300},{"c":90,"k":3,"v":1100},
{"c":91,"k":0,"v":1700},{"c":91,"k":1,"v":1400},{"c":91,"k":2,"v":1200},{"c":91,"k":3,"v":1000},
{"c":92,"k":0,"v":1700},{"c":92,"k":1,"v":1400},{"c":92,"k":2,"v":1200},{"c":92,"k":3,"v":1000},
{"c":93,"k":0,"v":1700},{"c":93,"k":1,"v":1300},{"c":93,"k":2,"v":1100},{"c":93,"k":3,"v":900},
{"c":94,"k":0,"v":1500},{"c":94,"k":1,"v":1200},{"c":94,"k":2,"v":1000},{"c":94,"k":3,"v":800},
{"c":95,"k":0,"v":1300},{"c":95,"k":1,"v":900},{"c":95,"k":2,"v":700},{"c":95,"k":3,"v":500}
],
"aRight": [
{"g":"RL2","k":"0 mM 3AT","v":51600},{"g":"RL2","k":"2,5 mM 3AT","v":38100},{"g":"RL2","k":"5 mM 3AT","v":30200},{"g":"RL2","k":"10 mM 3AT","v":20300},
{"g":"US1","k":"0 mM 3AT","v":51600},{"g":"US1","k":"2,5 mM 3AT","v":7000},{"g":"US1","k":"5 mM 3AT","v":4400},{"g":"US1","k":"10 mM 3AT","v":3500},
{"g":"UL15","k":"0 mM 3AT","v":3200},{"g":"UL15","k":"2,5 mM 3AT","v":10900},{"g":"UL15","k":"5 mM 3AT","v":10600},{"g":"UL15","k":"10 mM 3AT","v":10900},
{"g":"Negativ-kontrolle","k":"0 mM 3AT","v":5400},{"g":"Negativ-kontrolle","k":"2,5 mM 3AT","v":2900},{"g":"Negativ-kontrolle","k":"5 mM 3AT","v":2600},{"g":"Negativ-kontrolle","k":"10 mM 3AT","v":1900},
{"g":"Positiv-kontrolle","k":"0 mM 3AT","v":5800},{"g":"Positiv-kontrolle","k":"2,5 mM 3AT","v":4800},{"g":"Positiv-kontrolle","k":"5 mM 3AT","v":3600},{"g":"Positiv-kontrolle","k":"10 mM 3AT","v":3300}
],
"bRight": [
{"g":"RL2","k":"0 mM 3AT","v":51700},{"g":"RL2","k":"2,5 mM 3AT","v":38700},{"g":"RL2","k":"5 mM 3AT","v":24300},{"g":"RL2","k":"10 mM 3AT","v":24300},
{"g":"US1","k":"0 mM 3AT","v":51700},{"g":"US1","k":"2,5 mM 3AT","v":52300},{"g":"US1","k":"5 mM 3AT","v":52800},{"g":"US1","k":"10 mM 3AT","v":53100},
{"g":"UL15","k":"0 mM 3AT","v":51700},{"g":"UL15","k":"2,5 mM 3AT","v":52300},{"g":"UL15","k":"5 mM 3AT","v":51600},{"g":"UL15","k":"10 mM 3AT","v":39900},
{"g":"Negativ-kontrolle","k":"0 mM 3AT","v":2200},{"g":"Negativ-kontrolle","k":"2,5 mM 3AT","v":600},{"g":"Negativ-kontrolle","k":"5 mM 3AT","v":900},{"g":"Negativ-kontrolle","k":"10 mM 3AT","v":900},
{"g":"Positiv-kontrolle","k":"0 mM 3AT","v":43900},{"g":"Positiv-kontrolle","k":"2,5 mM 3AT","v":45100},{"g":"Positiv-kontrolle","k":"5 mM 3AT","v":41300},{"g":"Positiv-kontrolle","k":"10 mM 3AT","v":40600}
]
},
"layer": [
{
  "data": {"name": "aLeft"},
  "mark": {"type": "bar", "color": "black", "stroke": "black", "strokeWidth": 0.4},
  "encoding": {
    "x": {"field": "c", "type": "ordinal", "scale": {"range": [107.3, 767], "paddingInner": 0.12, "paddingOuter": 0.06},
      "axis": {"orient": "bottom", "offset": -575.7, "labels": false, "tickBand": "extent", "tickSize": 5, "title": "HSV-1 Genbank [Bait]", "titleFontSize": 23, "titleFontWeight": "normal", "titleX": 315, "titleY": 51.7, "titleAlign": "center", "titleBaseline": "alphabetic"}},
    "xOffset": {"field": "k", "type": "ordinal", "scale": {"paddingInner": 0, "paddingOuter": 0}},
    "y": {"field": "v", "type": "quantitative", "scale": {"domain": [0, 60000], "range": [392.3, 141], "nice": false},
      "axis": {"orient": "left", "offset": -107.3, "values": [0, 10000, 20000, 30000, 40000, 50000, 60000], "labelExpr": "datum.value == 0 ? '0,E+00' : (datum.value / 10000) + ',E+04'", "labelFontSize": 14.6, "labelPadding": 7, "tickSize": 5, "domainColor": "#808080", "tickColor": "#808080", "title": "Fluoreszenz [RLU]", "titleFontSize": 25, "titleFontWeight": "normal", "titleAngle": -90, "titleAlign": "center", "titleBaseline": "middle", "titleX": -79.3, "titleY": 263}}
  }
},
{
  "data": {"name": "bLeft"},
  "mark": {"type": "bar", "color": "black", "stroke": "black", "strokeWidth": 0.4},
  "encoding": {
    "x": {"field": "c", "type": "ordinal", "scale": {"range": [107.3, 765], "paddingInner": 0.12, "paddingOuter": 0.06},
      "axis": {"orient": "bottom", "offset": -50.5, "labels": false, "tickBand": "extent", "tickSize": 5, "title": "HSV-1 Genbank [Bait]", "titleFontSize": 23, "titleFontWeight": "normal", "titleX": 315, "titleY": 42, "titleAlign": "center", "titleBaseline": "alphabetic"}},
    "xOffset": {"field": "k", "type": "ordinal", "scale": {"paddingInner": 0, "paddingOuter": 0}},
    "y": {"field": "v", "type": "quantitative", "scale": {"domain": [0, 60000], "range": [917.5, 670.3], "nice": false},
      "axis": {"orient": "left", "offset": -107.3, "values": [0, 10000, 20000, 30000, 40000, 50000, 60000], "labelExpr": "datum.value == 0 ? '0,E+00' : (datum.value / 10000) + ',E+04'", "labelFontSize": 14.6, "labelPadding": 7, "tickSize": 5, "domainColor": "#808080", "tickColor": "#808080", "title": "Fluoreszenz [RLU]", "titleFontSize": 25, "titleFontWeight": "normal", "titleAngle": -90, "titleAlign": "center", "titleBaseline": "middle", "titleX": -79.3, "titleY": 787}}
  }
},
{
  "data": {"name": "aRight"},
  "encoding": {
    "x": {"field": "g", "type": "nominal", "sort": ["RL2", "US1", "UL15", "Negativ-kontrolle", "Positiv-kontrolle"], "scale": {"range": [649.3, 1176.8], "paddingInner": 0, "paddingOuter": 0},
      "axis": {"orient": "bottom", "offset": -693, "tickBand": "extent", "tickSize": 5, "labelAngle": 0, "labelFontSize": 22, "labelFontWeight": "bold", "labelPadding": 9, "labelLineHeight": 27, "labelBaseline": "top",
        "labelOffset": {"condition": [{"test": "datum.label == 'Negativ-kontrolle'", "value": -25}, {"test": "datum.label == 'Positiv-kontrolle'", "value": -29}], "value": 0},
        "labelExpr": "datum.label == 'Negativ-kontrolle' ? ['Negativ-', 'kontrolle'] : datum.label == 'Positiv-kontrolle' ? ['Positiv-', 'kontrolle'] : datum.label", "title": null}},
    "xOffset": {"field": "k", "type": "nominal", "sort": ["0 mM 3AT", "2,5 mM 3AT", "5 mM 3AT", "10 mM 3AT"], "scale": {"paddingInner": 0, "paddingOuter": 0.67}},
    "y": {"field": "v", "type": "quantitative", "scale": {"domain": [0, 60000], "range": [275, 17], "nice": false},
      "axis": {"orient": "left", "offset": -649.3, "values": [0, 10000, 20000, 30000, 40000, 50000, 60000], "labelExpr": "datum.value == 0 ? '0,E+00' : (datum.value / 10000) + ',E+04'", "labelFontSize": 18, "labelPadding": 8, "tickSize": 5, "title": "A", "titleFontSize": 26, "titleFontWeight": "bold", "titleAngle": 0, "titleAlign": "center", "titleBaseline": "alphabetic", "titleX": -630.3, "titleY": 40}}
  },
  "layer": [
    {
      "mark": {"type": "bar", "stroke": "black", "strokeWidth": 1},
      "encoding": {
        "color": {"field": "k", "type": "nominal", "sort": ["0 mM 3AT", "2,5 mM 3AT", "5 mM 3AT", "10 mM 3AT"],
          "scale": {"domain": ["0 mM 3AT", "2,5 mM 3AT", "5 mM 3AT", "10 mM 3AT"], "range": ["#707070", "#8c8c8c", "#d8d8d8", "#ffffff"]},
          "legend": {"orient": "none", "legendX": 1037, "legendY": 34, "padding": 0, "title": null, "symbolType": "square", "symbolSize": 121, "symbolStrokeColor": "black", "symbolStrokeWidth": 1, "labelFontSize": 22, "labelOffset": 4, "rowPadding": 15}}
      }
    },
    {
      "transform": [{"filter": "datum.k == '0 mM 3AT'"}],
      "mark": {"type": "bar", "stroke": "black", "strokeWidth": 1,
        "fill": {"expr": "{gradient: 'linear', x1: 0, y1: 1, x2: 250 * 19.76 / (390.5 + pow(datum.v * 0.0043, 2)), y2: 1 - 250 * datum.v * 0.0043 / (390.5 + pow(datum.v * 0.0043, 2)), stops: hatch}"}}
    }
  ]
},
{
  "data": {"name": "bRight"},
  "encoding": {
    "x": {"field": "g", "type": "nominal", "sort": ["RL2", "US1", "UL15", "Negativ-kontrolle", "Positiv-kontrolle"], "scale": {"range": [646.7, 1171.7], "paddingInner": 0, "paddingOuter": 0},
      "axis": {"orient": "bottom", "offset": -151.3, "tickBand": "extent", "tickSize": 5, "labelAngle": 0, "labelFontSize": 22, "labelFontWeight": "bold", "labelPadding": 15, "labelLineHeight": 27, "labelBaseline": "top",
        "labelOffset": {"condition": [{"test": "datum.label == 'Negativ-kontrolle'", "value": -25}, {"test": "datum.label == 'Positiv-kontrolle'", "value": -29}], "value": 0},
        "labelExpr": "datum.label == 'Negativ-kontrolle' ? ['Negativ-', 'kontrolle'] : datum.label == 'Positiv-kontrolle' ? ['Positiv-', 'kontrolle'] : datum.label", "title": null}},
    "xOffset": {"field": "k", "type": "nominal", "sort": ["0 mM 3AT", "2,5 mM 3AT", "5 mM 3AT", "10 mM 3AT"], "scale": {"paddingInner": 0, "paddingOuter": 0.67}},
    "y": {"field": "v", "type": "quantitative", "scale": {"domain": [0, 60000], "range": [816.7, 559.3], "nice": false},
      "axis": {"orient": "left", "offset": -646.7, "values": [0, 10000, 20000, 30000, 40000, 50000, 60000], "labelExpr": "datum.value == 0 ? '0,E+00' : (datum.value / 10000) + ',E+04'", "labelFontSize": 18, "labelPadding": 8, "tickSize": 5, "title": "B", "titleFontSize": 26, "titleFontWeight": "bold", "titleAngle": 0, "titleAlign": "center", "titleBaseline": "alphabetic", "titleX": -627.7, "titleY": 572}}
  },
  "layer": [
    {
      "mark": {"type": "bar", "stroke": "black", "strokeWidth": 1},
      "encoding": {
        "color": {"field": "k", "type": "nominal", "sort": ["0 mM 3AT", "2,5 mM 3AT", "5 mM 3AT", "10 mM 3AT"],
          "scale": {"domain": ["0 mM 3AT", "2,5 mM 3AT", "5 mM 3AT", "10 mM 3AT"], "range": ["#707070", "#8c8c8c", "#d8d8d8", "#ffffff"]},
          "legend": {"orient": "none", "legendX": 1037, "legendY": 34, "padding": 0, "title": null, "symbolType": "square", "symbolSize": 121, "symbolStrokeColor": "black", "symbolStrokeWidth": 1, "labelFontSize": 22, "labelOffset": 4, "rowPadding": 15}}
      }
    },
    {
      "transform": [{"filter": "datum.k == '0 mM 3AT'"}],
      "mark": {"type": "bar", "stroke": "black", "strokeWidth": 1,
        "fill": {"expr": "{gradient: 'linear', x1: 0, y1: 1, x2: 250 * 19.66 / (386.5 + pow(datum.v * 0.00429, 2)), y2: 1 - 250 * datum.v * 0.00429 / (386.5 + pow(datum.v * 0.00429, 2)), stops: hatch}"}}
    }
  ]
}
],
"resolve": {"scale": {"x": "independent", "y": "independent", "xOffset": "independent", "color": "shared"}, "axis": {"x": "independent", "y": "independent"}}
}
